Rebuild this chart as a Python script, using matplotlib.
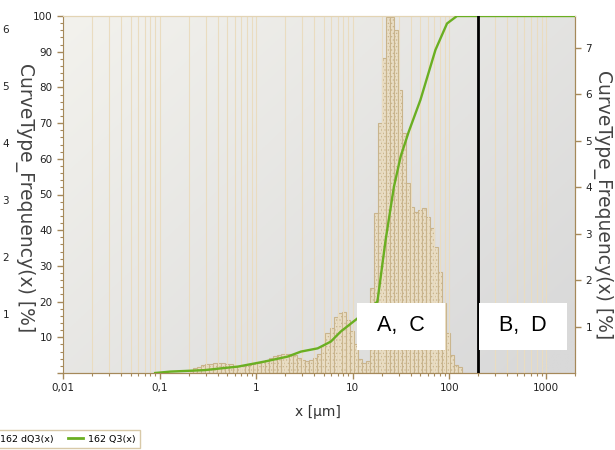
import numpy as np
import matplotlib.pyplot as plt
from matplotlib.patches import Rectangle
from matplotlib.lines import Line2D
from matplotlib.ticker import FixedLocator, LogLocator, MultipleLocator, NullFormatter

plt.rcParams['font.family'] = ['DejaVu Sans']
plt.rcParams['hatch.linewidth'] = 0.5

# size classes in µm (24 classes per decade, starting at 0.2 µm)
class_edges = np.geomspace(0.2, 0.2 * 10 ** (68 / 24), 69)

# density distribution dQ3 per class [%]
dq3 = [0.04, 0.10, 0.14, 0.17, 0.19, 0.20, 0.21, 0.21, 0.21, 0.20,
       0.19, 0.16, 0.15, 0.15, 0.16, 0.17, 0.19, 0.22, 0.25, 0.29,
       0.32, 0.36, 0.39, 0.41, 0.42, 0.41, 0.38, 0.33, 0.28, 0.26,
       0.27, 0.32, 0.42, 0.58, 0.86, 0.97, 1.20, 1.30, 1.31, 1.15,
       0.90, 0.62, 0.30, 0.22, 0.25, 1.83, 3.45, 5.39, 6.79, 7.67,
       7.67, 7.39, 6.10, 5.17, 4.09, 3.58, 3.47, 3.51, 3.56, 3.36,
       3.12, 2.72, 2.18, 1.51, 0.86, 0.39, 0.17, 0.13]

# cumulative distribution Q3 [%]
q3_x = [0.09, 0.13, 0.29, 0.65, 1.22, 2.12, 2.91, 4.33, 5.93, 7.5, 11.2,
        18.0, 21.9, 26.7, 31.3, 38.0, 50.2, 71.8, 94.6, 120, 2000]
q3_y = [0, 0.4, 0.8, 1.8, 3.2, 4.6, 6.0, 6.9, 8.8, 11.6, 15.3,
        20.0, 37.3, 52.2, 60.6, 67.6, 76.5, 90.5, 97.9, 100, 100]

cut_size = 200
x_ticks = [0.01, 0.1, 1, 10, 100, 1000]
x_labels = ['0,01', '0,1', '1', '10', '100', '1000']
outer_labels = ['6', '5', '4', '3', '2', '1']

tan = '#c9b48c'
brown = '#a5895a'
green = '#6aaf22'

W, H = 615, 450
fig = plt.figure(figsize=(W / 100, H / 100), dpi=100)
rect = [63 / W, 77 / H, 512 / W, 357 / H]

# background gradient
ax_bg = fig.add_axes(rect, zorder=0)
xx, yy = np.meshgrid(np.linspace(0, 1, 200), np.linspace(0, 1, 200))
t = np.clip(0.6 * xx + 0.45 * yy, 0, 1)[..., None]
c_tl = np.array([243, 242, 237]) / 255
c_br = np.array([217, 217, 217]) / 255
ax_bg.imshow(c_tl * (1 - t) + c_br * t, aspect='auto', extent=[0, 1, 0, 1])
ax_bg.axis('off')

ax1 = fig.add_axes(rect, zorder=2)
ax1.patch.set_visible(False)
ax2 = ax1.twinx()
ax2.set_zorder(1)
ax2.patch.set_visible(False)

ax1.set_xscale('log')
ax1.set_xlim(0.01, 2000)
ax1.set_ylim(0, 100)
ax2.set_ylim(0, 7.69)

# histogram
ax2.bar(class_edges[:-1], dq3, width=np.diff(class_edges), align='edge',
        facecolor='#e9dec6', edgecolor=tan, hatch='.....', linewidth=0.8)

# cumulative curve
ax1.plot(q3_x, q3_y, color=green, lw=1.7, zorder=3)
ax1.axvline(cut_size, color='black', lw=2, zorder=4)

# grid
ax1.set_axisbelow(True)
ax1.yaxis.set_major_locator(MultipleLocator(10))
ax1.yaxis.set_minor_locator(MultipleLocator(2))
ax1.grid(True, axis='y', which='major', color='#8c8c8c', lw=1.3)
ax1.grid(True, axis='x', which='both', color='#eadcc0', lw=0.8)
for gl in ax1.get_ygridlines():
    y = gl.get_ydata()[0]
    if y <= 0 or y >= 100:
        gl.set_visible(False)
ax1.set_yticks(range(0, 101, 10))
ax1.set_yticklabels([''] + [str(v) for v in range(10, 101, 10)])

ax1.xaxis.set_major_locator(FixedLocator(x_ticks))
ax1.set_xticklabels(x_labels)
ax1.xaxis.set_minor_locator(LogLocator(base=10, subs=np.arange(2, 10), numticks=50))
ax1.xaxis.set_minor_formatter(NullFormatter())

ax2.set_yticks(range(1, 8))

for ax in (ax1, ax2):
    ax.tick_params(which='both', direction='out', color=brown, labelsize=7.5,
                   labelcolor='#222222')
    ax.tick_params(which='major', length=4, width=1)
    ax.tick_params(which='minor', length=2.5, width=0.8)
    for s in ('left', 'right', 'bottom'):
        ax.spines[s].set_color(brown)
    ax.spines['top'].set_color('#e3d4b4')
ax2.spines['left'].set_visible(False)

# labels
fig.text(25 / W, 1 - 198 / H, 'CurveType_Frequency(x) [%]', rotation=270,
         ha='center', va='center', fontsize=13.5, color='#444444')
fig.text(603 / W, 1 - 205 / H, 'CurveType_Frequency(x) [%]', rotation=270,
         ha='center', va='center', fontsize=13.5, color='#444444')
fig.text(318 / W, 1 - 412 / H, 'x [µm]', ha='center', va='center',
         fontsize=10, color='#333333')

# cut-off tick labels from the neighbouring axis
for i, lab in enumerate(outer_labels):
    fig.text(9 / W, 1 - (30 + 57 * i) / H, lab, ha='right', va='center',
             fontsize=7.5, color='#222222')

# region boxes
for x0, lab in ((357, 'A,  C'), (479, 'B,  D')):
    ax1.add_patch(Rectangle(((x0 - 63) / 512, (373 - 350) / 357), 88 / 512, 47 / 357,
                            transform=ax1.transAxes, facecolor='white',
                            edgecolor='none', zorder=5))
    ax1.text((x0 - 63 + 44) / 512, (373 - 326) / 357, lab, transform=ax1.transAxes,
             ha='center', va='center', fontsize=15.5, family='Liberation Sans',
             zorder=6)

# legend, partly outside the figure like the original
handles = [Rectangle((0, 0), 1, 1, facecolor='#e9dec6', edgecolor=tan, hatch='.....'),
           Line2D([], [], color=green, lw=2)]
fig.legend(handles, ['162 dQ3(x)', '162 Q3(x)'], loc='upper left',
           bbox_to_anchor=(-25 / W, 1 - 430 / H), borderaxespad=0, ncol=2,
           fontsize=6.8, fancybox=False, edgecolor='#d8c9a8', framealpha=1,
           handlelength=1.6, handletextpad=0.5, columnspacing=1.6, borderpad=0.5)

fig.savefig('out.png', dpi=100)
